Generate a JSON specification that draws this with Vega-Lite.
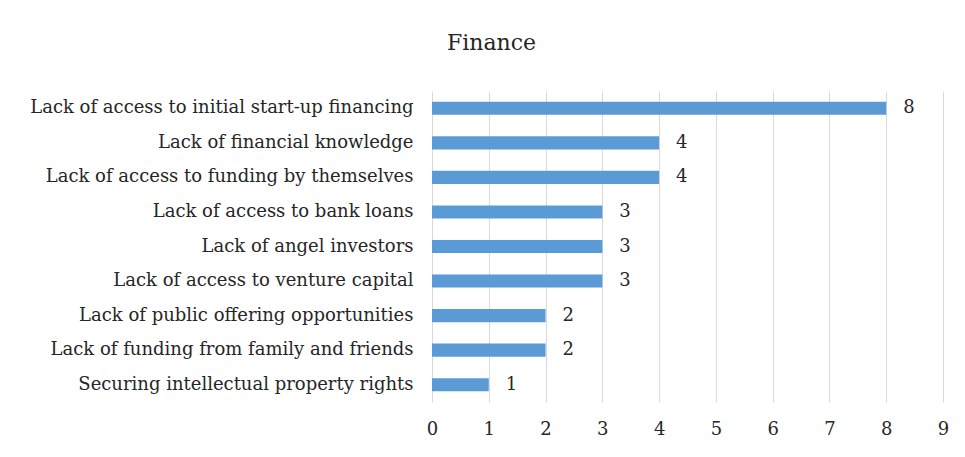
{
  "$schema": "https://vega.github.io/schema/vega-lite/v6.json",
  "width": 511,
  "height": 311,
  "autosize": "none",
  "padding": {"left": 432, "top": 91, "right": 22, "bottom": 55},
  "background": "white",
  "title": {
    "text": "Finance",
    "font": "DejaVu Serif",
    "fontSize": 22,
    "fontWeight": "normal",
    "color": "#262626",
    "anchor": "middle",
    "dx": -196,
    "offset": 36
  },
  "data": {
    "values": [
      {"category": "Lack of access to initial start-up financing", "value": 8},
      {"category": "Lack of financial knowledge", "value": 4},
      {"category": "Lack of access to funding by themselves", "value": 4},
      {"category": "Lack of access to bank loans", "value": 3},
      {"category": "Lack of angel investors", "value": 3},
      {"category": "Lack of access to venture capital", "value": 3},
      {"category": "Lack of public offering opportunities", "value": 2},
      {"category": "Lack of funding from family and friends", "value": 2},
      {"category": "Securing intellectual property rights", "value": 1}
    ]
  },
  "encoding": {
    "y": {
      "field": "category",
      "type": "nominal",
      "sort": null,
      "scale": {"paddingInner": 0.62, "paddingOuter": 0.31},
      "axis": {
        "title": null,
        "domain": false,
        "ticks": false,
        "labelFont": "DejaVu Serif",
        "labelFontSize": 18,
        "labelColor": "#262626",
        "labelPadding": 19,
        "labelLimit": 500
      }
    },
    "x": {
      "field": "value",
      "type": "quantitative",
      "scale": {"domain": [0, 9], "nice": false},
      "axis": {
        "title": null,
        "values": [0, 1, 2, 3, 4, 5, 6, 7, 8, 9],
        "domain": false,
        "ticks": false,
        "grid": true,
        "gridColor": "#d9d9d9",
        "gridWidth": 1,
        "labelFont": "DejaVu Serif",
        "labelFontSize": 18,
        "labelColor": "#262626",
        "labelPadding": 18,
        "labelFlush": false
      }
    }
  },
  "layer": [
    {"mark": {"type": "bar", "color": "#5B9BD5"}},
    {
      "mark": {
        "type": "text",
        "align": "left",
        "baseline": "middle",
        "dx": 17,
        "font": "DejaVu Serif",
        "fontSize": 18,
        "color": "#262626"
      },
      "encoding": {"text": {"field": "value", "type": "quantitative"}}
    }
  ],
  "config": {"view": {"stroke": null}}
}
